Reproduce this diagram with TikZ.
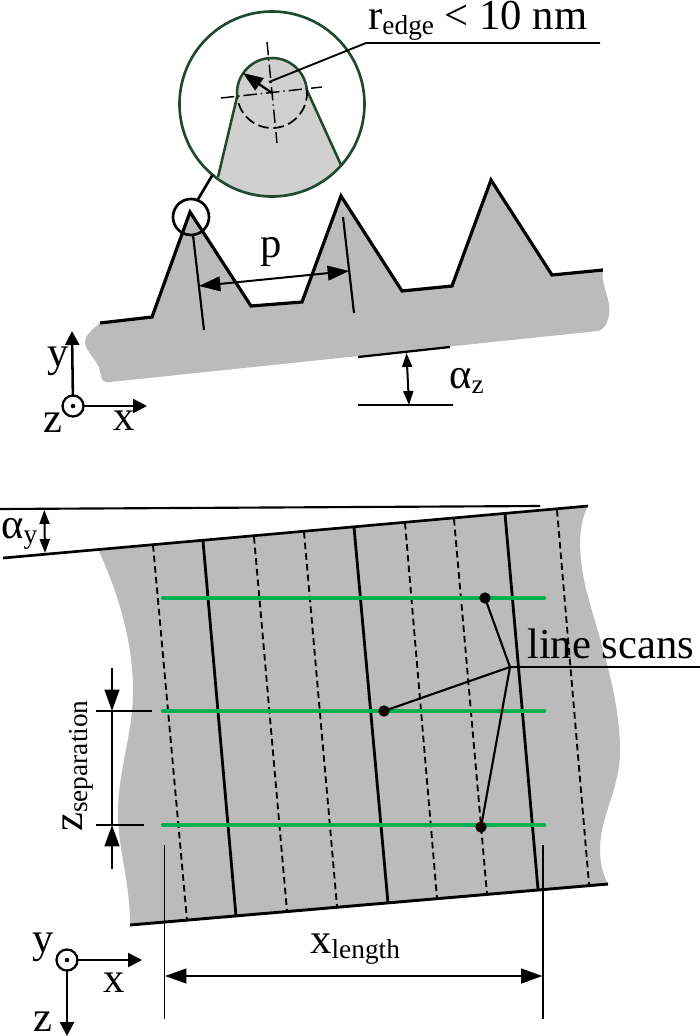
\documentclass[tikz,border=0pt]{standalone}
\usepackage{fontspec}
\setmainfont{Liberation Serif}
\usetikzlibrary{arrows.meta}
\definecolor{toolgray}{HTML}{BBBBBB}
\definecolor{detailgray}{HTML}{D0D0D0}
\definecolor{detailgreen}{HTML}{1F4A2F}
\definecolor{scangreen}{HTML}{00B050}
\newcommand{\lowsub}[1]{\raisebox{-4pt}{\fontsize{20.5}{24}\selectfont #1}}
\tikzset{
  lbl/.style={font=\fontsize{32}{36}\selectfont,inner sep=0pt,anchor=base west},
  edgeline/.style={line width=2.4pt,black,line join=miter},
  thinline/.style={line width=1.4pt,black},
  solidpitch/.style={line width=2.1pt,black},
  dashpitch/.style={line width=1.4pt,black,dash pattern=on 5pt off 3pt},
  scanline/.style={line width=3.2pt,scangreen,line cap=round},
  dimarrow/.style={line width=1.5pt,black,{Triangle[length=16pt,width=11pt]}-{Triangle[length=16pt,width=11pt]}},
  smallarrow/.style={line width=1.5pt,black,{Triangle[length=10.5pt,width=7.5pt]}-{Triangle[length=10.5pt,width=7.5pt]}},
  onearrow/.style={line width=1.7pt,black,-{Triangle[length=16pt,width=11pt]}},
  axisarrow/.style={line width=1.9pt,black,-{Triangle[length=10.5pt,width=10.5pt]}},
  axisdot/.style={circle,draw=black,line width=1.7pt,fill=white,minimum size=15.75pt,inner sep=0pt,outer sep=0pt},
  scandot/.style={circle,fill=black,minimum size=8.5pt,inner sep=0pt,outer sep=0pt},
  centerline/.style={line width=1.1pt,black,dash pattern=on 10pt off 3pt on 1pt off 3pt},
}
\begin{document}
\begin{tikzpicture}[x=0.75pt,y=-0.75pt]
\useasboundingbox (0,0) rectangle (700,1036);
% ---------- upper profile
\fill[toolgray] (100,323) -- (152,317) -- (190,212) -- (251,306) -- (302,302) -- (341,196) -- (402,291) -- (452,286) -- (491,180) -- (552,275) -- (603,270)
  .. controls (600,285) and (612,300) .. (609,315)
  .. controls (607,325) and (603,330) .. (598,331)
  -- (110,382) .. controls (104,383) and (101,380) .. (101,375)
  .. controls (99,360) and (85,352) .. (85,342)
  .. controls (85,335) and (94,328) .. (100,323) -- cycle;
\draw[edgeline] (100,323) -- (152,317) -- (190,212) -- (251,306) -- (302,302) -- (341,196) -- (402,291) -- (452,286) -- (491,180) -- (552,275) -- (603,270);
\coordinate (pa1) at (193,235); \coordinate (pa2) at (204,330);
\coordinate (pb1) at (343,217); \coordinate (pb2) at (354,313);
\draw[thinline,line width=1.6pt] (pa1) -- (pa2);
\draw[thinline,line width=1.6pt] (pb1) -- (pb2);
\coordinate (pl) at (199,286); \coordinate (pr) at (349,271);
\draw[dimarrow] (pl) -- (pr);
\node[lbl] (plabel) at (260,257) {p};
% ---------- magnified detail
\begin{scope}
  \clip (272,104) circle[radius=69.375pt];
  \fill[detailgray] (218,177) -- (237,97)
    -- plot[domain=173:355,samples=40] ({272+35*cos(\x)},{93+35*sin(\x)})
    -- (341,165) -- (345,210) -- (210,210) -- cycle;
\end{scope}
\draw[line width=1.9pt,detailgreen,line join=round] (218,177) -- (237,97)
    -- plot[domain=173:355,samples=40] ({272+35*cos(\x)},{93+35*sin(\x)})
    -- (341,165);
\draw[line width=1.3pt,black,dash pattern=on 8pt off 3.5pt] plot[domain=-5:173,samples=40] ({272+35*cos(\x)},{93+35*sin(\x)});
\coordinate (cla) at (221,98); \coordinate (clb) at (322,87);
\coordinate (clc) at (267,42); \coordinate (cld) at (277,143);
\draw[centerline] (cla) -- (clb);
\draw[centerline] (clc) -- (cld);
\node[circle,draw=detailgreen,line width=2pt,minimum size=138.75pt,inner sep=0pt,outer sep=0pt] (big) at (272,104) {};
\node[circle,draw=black,line width=2pt,minimum size=27pt,inner sep=0pt,outer sep=0pt] (small) at (191,217) {};
\draw[line width=2pt,black] (small.69) -- (big.230);
\coordinate (rc) at (272,93); \coordinate (rt) at (243,73);
\draw[line width=1.7pt,black,-{Triangle[length=15pt,width=11pt]}] (rc) -- (rt);
\coordinate (ra) at (269,82); \coordinate (rb) at (366,43); \coordinate (rd) at (600,43);
\draw[line width=1.4pt,black] (ra) -- (rb) -- (rd);
\node[lbl] (rlabel) at (368,29) {r\lowsub{edge} < 10 nm};
% ---------- alpha z
\coordinate (za) at (358,357); \coordinate (zb) at (450,347);
\coordinate (zc) at (358,405); \coordinate (zd) at (453,405);
\coordinate (ze) at (406.5,353); \coordinate (zf) at (409,405);
\draw[thinline,line width=1.7pt] (za) -- (zb);
\draw[thinline] (zc) -- (zd);
\draw[smallarrow] (ze) -- (zf);
\node[lbl] (azlabel) at (449,388) {α\lowsub{z}};
% ---------- upper axes
\node[axisdot] (ao) at (73,406) {};
\fill[black] (ao.center) circle[radius=1.7pt];
\coordinate (ay) at (72,331); \coordinate (ax) at (147,406);
\draw[axisarrow] (ao) -- (ay);
\draw[axisarrow] (ao) -- (ax);
\node[lbl] (aylabel) at (47,366) {y};
\node[lbl] (azz) at (43,432) {z};
\node[lbl] (axx) at (113,430) {x};
% ---------- lower plate
\fill[toolgray] (98,549) -- (588,506)
  .. controls (578,525) and (578,550) .. (585,585)
  .. controls (593,620) and (620,690) .. (620,750)
  .. controls (620,790) and (600,815) .. (600,850)
  .. controls (600,865) and (604,877) .. (608,884)
  -- (130,925)
  .. controls (130,880) and (118,850) .. (118,813)
  .. controls (118,770) and (133,735) .. (133,690)
  .. controls (133,640) and (117,590) .. (98,549) -- cycle;
\coordinate (ta) at (0,509); \coordinate (tb) at (540,506);
\coordinate (tc) at (3,558); \coordinate (td) at (588,506);
\coordinate (be) at (130,925); \coordinate (bf) at (608,884);
\draw[thinline,line width=1.6pt] (ta) -- (tb);
\draw[edgeline,line width=2pt] (tc) -- (td);
\draw[edgeline,line width=2.2pt] (be) -- (bf);
\coordinate (ya) at (44.3,510); \coordinate (yb) at (45,553);
\draw[smallarrow] (ya) -- (yb);
\node[lbl] (aylab) at (1,538) {α\lowsub{y}};
% pitch lines
\foreach \n/\xa/\ya/\xb/\yb in {1/153/545/187/920,2/254/537/287/911,3/304/532/337/906,4/405/523/437/898,5/454/519/487/894,6/557/510/589/884}{
  \coordinate (d\n a) at (\xa,\ya); \coordinate (d\n b) at (\xb,\yb);
  \draw[dashpitch] (d\n a) -- (d\n b);
}
\foreach \n/\xa/\ya/\xb/\yb in {1/203/541/236/916,2/354/527/388/903,3/505/514/538/889}{
  \coordinate (s\n a) at (\xa,\ya); \coordinate (s\n b) at (\xb,\yb);
  \draw[solidpitch] (s\n a) -- (s\n b);
}
% scan lines
\foreach \n/\y in {1/598,2/711,3/825}{
  \coordinate (g\n a) at (163,\y); \coordinate (g\n b) at (544,\y);
  \draw[scanline] (g\n a) -- (g\n b);
}
\node[scandot] (dot1) at (485,598) {};
\node[scandot] (dot2) at (384,711) {};
\node[scandot] (dot3) at (481,827) {};
\coordinate (hub) at (510,667); \coordinate (hubr) at (700,667);
\draw[line width=1.6pt,black] (dot1.center) -- (hub) -- (dot2.center);
\draw[line width=1.6pt,black] (hub) -- (dot3.center);
\draw[line width=1.6pt,black] (hub) -- (hubr);
\node[lbl] (ls) at (527,658) {line scans};
% z separation
\coordinate (va) at (112,668); \coordinate (vb) at (112,711);
\coordinate (vc) at (112,869); \coordinate (vd) at (112,825);
\coordinate (he) at (96,711); \coordinate (hf) at (152,711);
\coordinate (hg) at (96,825); \coordinate (hh) at (144,825);
\draw[onearrow] (va) -- (vb);
\draw[onearrow] (vc) -- (vd);
\draw[line width=1.7pt,black] (vb) -- (vd);
\draw[line width=1.6pt,black] (he) -- (hf);
\draw[line width=1.6pt,black] (hg) -- (hh);
\node[lbl,rotate=90] (zs) at (82,832) {z\lowsub{separation}};
% x length
\coordinate (ea) at (164.5,845); \coordinate (eb) at (164.5,1019);
\coordinate (ec) at (543,845); \coordinate (ed) at (543,1019);
\coordinate (xa) at (165,976); \coordinate (xb) at (542.5,976);
\draw[thinline] (ea) -- (eb);
\draw[thinline] (ec) -- (ed);
\draw[dimarrow] (xa) -- (xb);
\node[lbl] (xl) at (310,953) {x\lowsub{length}};
% lower axes
\node[axisdot] (bo) at (67,960) {};
\fill[black] (bo.center) circle[radius=1.7pt];
\coordinate (bx) at (142,960); \coordinate (bz) at (67,1036);
\draw[axisarrow] (bo) -- (bx);
\draw[axisarrow] (bo) -- (bz);
\node[lbl] (by) at (32,952) {y};
\node[lbl] (bxl) at (103,992) {x};
\node[lbl] (bzl) at (33,1031) {z};
\end{tikzpicture}
\end{document}
